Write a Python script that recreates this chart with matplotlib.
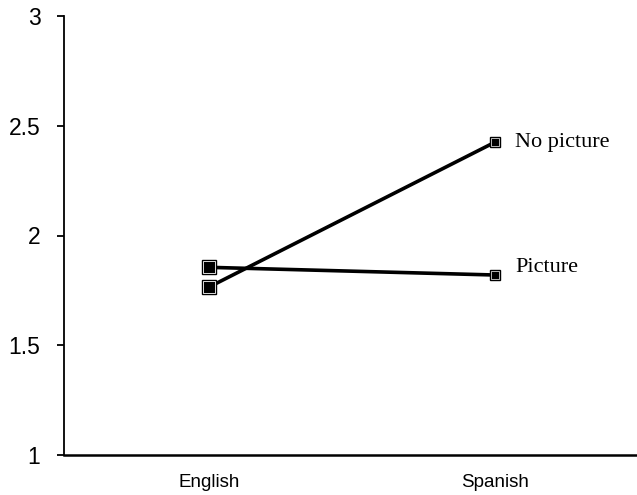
import matplotlib
matplotlib.use("Agg")
import matplotlib.pyplot as plt

languages = ["English", "Spanish"]
no_picture = [1.765, 2.425]
picture = [1.855, 1.82]
series_names = ["No picture", "Picture"]
label_shift = [0.0, 0.035]
yticks = [1, 1.5, 2, 2.5, 3]
ytick_labels = ["1", "1.5", "2", "2.5", "3"]

fig = plt.figure(figsize=(6.37, 4.95), dpi=100)
ax = fig.add_axes([64/637, 40/495, 573/637, 439/495])

x = [0, 1]
for vals in [no_picture, picture]:
    ax.plot(x, vals, color="black", lw=2.6, zorder=2)
    # big square at English, small at Spanish
    ax.plot(x[0], vals[0], marker="s", ms=10, mfc="black", mec="black", mew=1, zorder=3)
    ax.plot(x[0], vals[0], marker="s", ms=8.5, mfc="black", mec="white", mew=0.6, zorder=4)
    ax.plot(x[1], vals[1], marker="s", ms=6.5, mfc="black", mec="black", mew=1, zorder=3)
    ax.plot(x[1], vals[1], marker="s", ms=5.2, mfc="black", mec="white", mew=0.5, zorder=4)

for name, vals, dy in zip(series_names, [no_picture, picture], label_shift):
    ax.text(1.07, vals[1] + dy, name,
            fontfamily="Liberation Serif", fontsize=16, va="center", ha="left")

ax.set_xlim(-0.507, 1.497)
ax.set_ylim(1, 3)
ax.set_xticks(x)
ax.set_xticklabels(languages, fontfamily="Liberation Sans", fontsize=13.5)
ax.set_yticks(yticks)
ax.set_yticklabels(ytick_labels, fontfamily="Liberation Sans", fontsize=16.5)
ax.tick_params(axis="x", length=0, pad=14)
ax.tick_params(axis="y", length=5, width=1.3, pad=12)
ax.spines["top"].set_visible(False)
ax.spines["right"].set_visible(False)
ax.spines["left"].set_linewidth(1.3)
ax.spines["bottom"].set_linewidth(1.8)

fig.savefig("out.png", dpi=100)
